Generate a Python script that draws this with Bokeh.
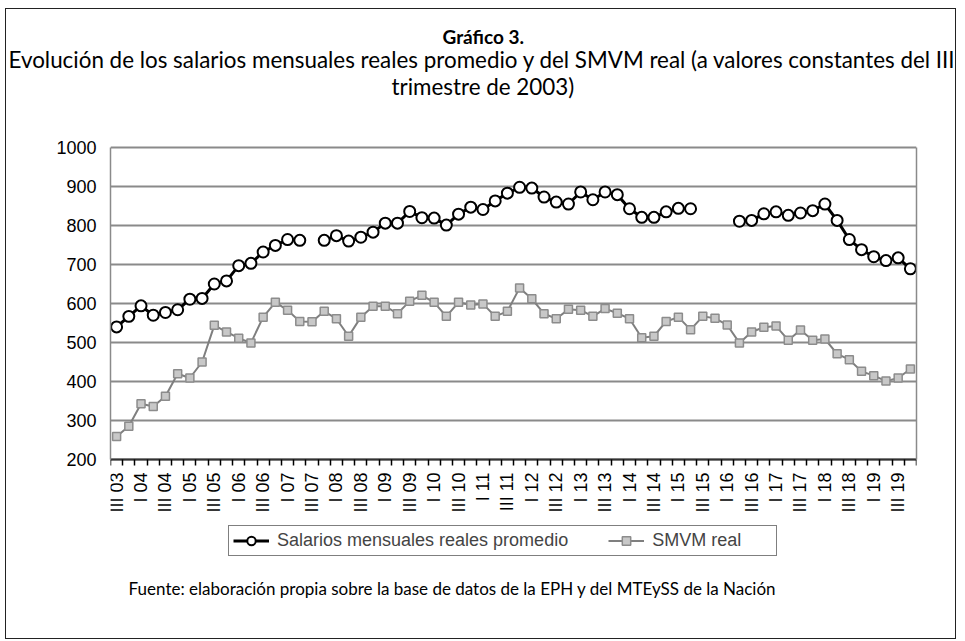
import math
from bokeh.plotting import figure
from bokeh.models import (Range1d, FixedTicker, Legend, LegendItem, Title, Label,
                          LinearAxis)
from bokeh.embed import file_html
from bokeh.resources import INLINE

# ---- data (quarterly, III 2003 ... IV 2019) ----
tick_labels = ["III 03", "I 04", "III 04", "I 05", "III 05", "I 06", "III 06", "I 07",
               "III 07", "I 08", "III 08", "I 09", "III 09", "I 10", "III 10", "I 11",
               "III 11", "I 12", "III 12", "I 13", "III 13", "I 14", "III 14", "I 15",
               "III 15", "I 16", "III 16", "I 17", "III 17", "I 18", "III 18", "I 19",
               "III 19"]

salarios = [540, 567, 594, 570, 577, 584, 611, 613, 650, 658,
            697, 703, 732, 749, 764, 762, None, 762, 774, 760,
            770, 783, 806, 806, 836, 820, 819, 801, 829, 847,
            841, 863, 883, 898, 896, 873, 860, 855, 886, 866,
            886, 879, 843, 821, 821, 835, 844, 843, None, None,
            None, 811, 813, 830, 835, 826, 832, 838, 855, 813,
            764, 738, 720, 710, 717, 689]

smvm = [259, 285, 343, 336, 362, 420, 409, 450, 544, 527,
        511, 499, 565, 603, 583, 554, 553, 580, 561, 516,
        565, 593, 593, 574, 606, 621, 603, 567, 603, 596,
        599, 567, 580, 640, 612, 574, 561, 585, 583, 567,
        587, 575, 561, 512, 516, 554, 565, 533, 567, 562,
        545, 499, 527, 539, 542, 506, 532, 506, 509, 471,
        456, 426, 415, 401, 409, 432]

y_min, y_max = 200, 1000
y_ticks = [200, 300, 400, 500, 600, 700, 800, 900, 1000]

title_1 = "Gráfico 3."
title_2 = "Evolución de los salarios mensuales reales promedio y del SMVM real (a valores constantes del III"
title_3 = "trimestre de 2003)"
source_txt = "Fuente: elaboración propia sobre la base de datos de la EPH y del MTEySS de la Nación"

n = len(smvm)
xs = list(range(n))
sal = [float("nan") if v is None else v for v in salarios]

# ---- layout (pixels) ----
W, H = 951, 631
B_LEFT, B_RIGHT, B_TOP, B_BOTTOM = 104, 41, 90, 10
frame_h = H - B_TOP - B_BOTTOM
pad_top = 48            # frame top -> y_max line
plot_h = 312            # y_max line -> y_min line
upp = (y_max - y_min) / plot_h
y_end = y_max + pad_top * upp
y_start = y_end - frame_h * upp

p = figure(width=W, height=H, output_backend="svg", toolbar_location=None,
           x_range=Range1d(-0.5, n - 0.5), y_range=Range1d(y_start, y_end),
           min_border_left=B_LEFT, min_border_right=B_RIGHT, min_border_top=B_TOP,
           min_border_bottom=B_BOTTOM)
p.background_fill_color = "white"
p.border_fill_color = "white"
p.outline_line_color = None
p.styles = {"border": "1px solid #222", "margin-left": "5px", "margin-top": "8px"}

GRID = "#8a8a8a"

# grid
p.xgrid.visible = False
p.ygrid.grid_line_color = GRID
p.ygrid.grid_line_width = 1.8
p.yaxis.ticker = FixedTicker(ticks=y_ticks)

# y axis (left)
p.yaxis.bounds = (y_min, y_max)
p.yaxis.axis_line_color = GRID
p.yaxis.axis_line_width = 1.5
p.yaxis.major_tick_line_color = None
p.yaxis.minor_tick_line_color = None
p.yaxis.major_tick_out = 0
p.yaxis.major_tick_in = 0
p.yaxis.major_label_standoff = 14
p.yaxis.major_label_text_font = "Liberation Sans"
p.yaxis.major_label_text_font_size = "18px"
p.yaxis.major_label_text_color = "black"

# right border of the plot area
right_axis = LinearAxis(bounds=(y_min, y_max), ticker=FixedTicker(ticks=[]),
                        axis_line_color=GRID, axis_line_width=1.5,
                        major_tick_line_color=None, minor_tick_line_color=None,
                        major_label_text_font_size="0px")
p.add_layout(right_axis, "right")

# x axis, fixed at y_min
label_pos = list(range(0, n, 2))[:len(tick_labels)]
p.xaxis.fixed_location = y_min
p.xaxis.ticker = FixedTicker(ticks=label_pos, minor_ticks=[i - 0.5 for i in range(n + 1)])
p.xaxis.major_label_overrides = {pos: lab for pos, lab in zip(label_pos, tick_labels)}
p.xaxis.major_label_orientation = math.pi / 2
p.xaxis.major_tick_line_color = None
p.xaxis.major_tick_out = 0
p.xaxis.major_tick_in = 0
p.xaxis.minor_tick_line_color = "black"
p.xaxis.minor_tick_line_width = 1.5
p.xaxis.minor_tick_out = 6
p.xaxis.minor_tick_in = 0
p.xaxis.axis_line_color = "#333333"
p.xaxis.axis_line_width = 1.8
p.xaxis.major_label_standoff = 7
p.xaxis.major_label_text_font = "Liberation Sans"
p.xaxis.major_label_text_font_size = "18px"
p.xaxis.major_label_text_color = "black"

# series
r2l = p.line(xs, smvm, line_color="#7f7f7f", line_width=2)
r2s = p.scatter(xs, smvm, marker="square", size=8, fill_color="#c8c8c8",
                line_color="#8c8c8c", line_width=1.5)
r1l = p.line(xs, sal, line_color="black", line_width=3)
r1s = p.scatter(xs, sal, marker="circle", size=11, fill_color="white",
                line_color="black", line_width=2)

legend = Legend(items=[LegendItem(label="Salarios mensuales reales promedio", renderers=[r1l, r1s]),
                       LegendItem(label="SMVM real", renderers=[r2l, r2s])],
                orientation="horizontal", location=(118, 74),
                border_line_color="black", border_line_width=1.2,
                label_text_font="Liberation Sans", label_text_font_size="18px",
                glyph_width=36, glyph_height=21, spacing=40, padding=4, margin=0,
                label_standoff=8, label_width=120,
                background_fill_color="white", background_fill_alpha=1)
p.add_layout(legend, "center")

# source
p.add_layout(Label(x=342, y=42, x_units="screen", y_units="screen", text=source_txt,
                   text_align="center", text_baseline="middle", text_font="Lato",
                   text_font_size="17px", text_color="black"))

# titles (first added is closest to the frame)
p.add_layout(Title(text=title_3, align="left", offset=281, text_font="Lato",
                   text_font_size="22.4px", text_font_style="normal", text_color="black",
                   standoff=0), "above")
p.add_layout(Title(text=title_2, align="left", offset=-102, text_font="Lato",
                   text_font_size="22.4px", text_font_style="normal", text_color="black",
                   standoff=-4), "above")
p.add_layout(Title(text=title_1, align="left", offset=332, text_font="Lato",
                   text_font_size="19px", text_font_style="bold", text_color="black",
                   standoff=-4), "above")

open("out.html", "w").write(file_html(p, INLINE))
